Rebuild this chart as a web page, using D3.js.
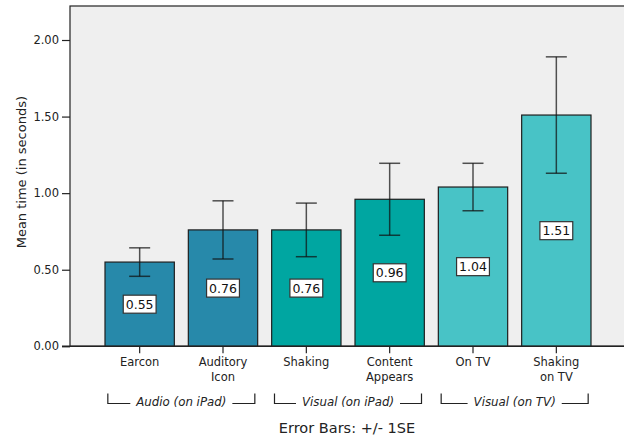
<!DOCTYPE html>
<html>
<head>
<meta charset="utf-8">
<script src="https://cdn.jsdelivr.net/npm/d3@7"></script>
<style>
  html, body { margin: 0; padding: 0; background: #fff; }
  svg { display: block; font-family: "DejaVu Sans", Verdana, sans-serif; }
</style>
</head>
<body>
<svg id="chart" width="624" height="438"></svg>
<script>
// Mean response time per notification condition, with ±1 standard error
const categories = ["Earcon", "Auditory\nIcon", "Shaking", "Content\nAppears", "On TV", "Shaking\non TV"];
const means = [0.55, 0.76, 0.76, 0.96, 1.04, 1.51];
const stdErrors = [0.093, 0.19, 0.175, 0.235, 0.155, 0.38];
const groupOf = [0, 0, 1, 1, 2, 2];
const groupLabels = ["Audio (on iPad)", "Visual (on iPad)", "Visual (on TV)"];
const groupColors = ["#2789aa", "#00a6a1", "#48c3c6"];
const yTicks = [0, 0.5, 1.0, 1.5, 2.0];

const svg = d3.select("#chart");
const plot = { left: 70, top: 6, right: 630, bottom: 346.3 };

const x = d3.scaleBand()
  .domain(categories)
  .range([98, 598])
  .paddingInner(0.168)
  .paddingOuter(0.084);

const y = d3.scaleLinear()
  .domain([0, 2.222])
  .range([plot.bottom, plot.top]);

// Plot background and frame
svg.append("rect")
  .attr("x", plot.left).attr("y", plot.top)
  .attr("width", plot.right - plot.left).attr("height", plot.bottom - plot.top)
  .attr("fill", "#efefef")
  .attr("stroke", "#222").attr("stroke-width", 1.2);

// Bars
const bars = svg.append("g");
bars.selectAll("rect")
  .data(means)
  .join("rect")
  .attr("x", (d, i) => x(categories[i]))
  .attr("y", d => y(d))
  .attr("width", x.bandwidth())
  .attr("height", d => y(0) - y(d))
  .attr("fill", (d, i) => groupColors[groupOf[i]])
  .attr("stroke", "#1e1e1e")
  .attr("stroke-width", 1.2);

// Error bars (±1 SE)
const err = svg.append("g")
  .attr("stroke", "#111")
  .attr("stroke-opacity", 0.72)
  .attr("stroke-width", 1.5);
means.forEach((m, i) => {
  const cx = x(categories[i]) + x.bandwidth() / 2;
  const lo = y(m - stdErrors[i]);
  const hi = y(m + stdErrors[i]);
  const cap = 10.5;
  err.append("line").attr("x1", cx).attr("x2", cx).attr("y1", lo).attr("y2", hi);
  err.append("line").attr("x1", cx - cap).attr("x2", cx + cap).attr("y1", hi).attr("y2", hi);
  err.append("line").attr("x1", cx - cap).attr("x2", cx + cap).attr("y1", lo).attr("y2", lo);
});

// Value labels in white boxes at mid-bar
const labels = svg.append("g");
means.forEach((m, i) => {
  const cx = x(categories[i]) + x.bandwidth() / 2;
  const cy = y(m / 2);
  const g = labels.append("g").attr("transform", `translate(${cx},${cy})`);
  const box = g.append("rect").attr("fill", "#fff").attr("stroke", "#333").attr("stroke-width", 1.2);
  const t = g.append("text")
    .attr("text-anchor", "middle")
    .attr("dy", "0.36em")
    .attr("font-size", 12.5)
    .attr("fill", "#111")
    .text(d3.format(".2f")(m));
  const w = t.node().getComputedTextLength() + 5;
  box.attr("x", -w / 2).attr("y", -9).attr("width", w).attr("height", 18);
});

// Y axis
const yAxis = svg.append("g")
  .attr("transform", `translate(${plot.left},0)`)
  .call(d3.axisLeft(y).tickValues(yTicks).tickFormat(d3.format(".2f")).tickSize(8).tickPadding(3));
yAxis.select(".domain").remove();
yAxis.selectAll(".tick line").attr("stroke", "#222").attr("stroke-width", 1.2);
yAxis.selectAll(".tick text").attr("font-size", 11.5).attr("fill", "#222")
  .attr("font-family", "DejaVu Sans, Verdana, sans-serif");

// X axis baseline and ticks
const xAxis = svg.append("g")
  .attr("transform", `translate(0,${plot.bottom})`)
  .call(d3.axisBottom(x).tickSize(7).tickFormat(""));
xAxis.select(".domain").remove();
xAxis.selectAll(".tick line").attr("stroke", "#222").attr("stroke-width", 1.2);
svg.append("line")
  .attr("x1", 62).attr("x2", 624)
  .attr("y1", plot.bottom).attr("y2", plot.bottom)
  .attr("stroke", "#222").attr("stroke-width", 1.4);

// Category labels (possibly two lines)
categories.forEach(c => {
  const cx = x(c) + x.bandwidth() / 2;
  const t = svg.append("text")
    .attr("x", cx).attr("y", 366)
    .attr("text-anchor", "middle")
    .attr("font-size", 11.5)
    .attr("fill", "#222");
  c.split("\n").forEach((line, k) => {
    t.append("tspan").attr("x", cx).attr("dy", k === 0 ? 0 : 14.5).text(line);
  });
});

// Group brackets with italic labels
groupLabels.forEach((label, gi) => {
  const members = categories.filter((c, i) => groupOf[i] === gi);
  const x0 = x(members[0]);
  const x1 = x(members[members.length - 1]) + x.bandwidth();
  const mid = (x0 + x1) / 2;
  const left = mid - 73.5, right = mid + 73.5;
  const yb = 403.5, ytop = 393.5;
  const t = svg.append("text")
    .attr("x", mid).attr("y", yb + 2.5)
    .attr("text-anchor", "middle")
    .attr("font-size", 11.8)
    .attr("font-style", "italic")
    .attr("fill", "#222")
    .text(label);
  const tw = t.node().getComputedTextLength();
  const gap = 6;
  const path = d3.path();
  path.moveTo(left, ytop); path.lineTo(left, yb); path.lineTo(mid - tw / 2 - gap, yb);
  path.moveTo(mid + tw / 2 + gap, yb); path.lineTo(right, yb); path.lineTo(right, ytop);
  svg.append("path").attr("d", path.toString())
    .attr("fill", "none").attr("stroke", "#222").attr("stroke-width", 1.2);
});

// Axis titles and footnote
svg.append("text")
  .attr("transform", `translate(26,${(plot.top + plot.bottom) / 2 - 4}) rotate(-90)`)
  .attr("text-anchor", "middle")
  .attr("font-size", 13)
  .attr("fill", "#222")
  .text("Mean time (in seconds)");

svg.append("text")
  .attr("x", 347).attr("y", 433)
  .attr("text-anchor", "middle")
  .attr("font-size", 14.5)
  .attr("fill", "#222")
  .text("Error Bars: +/- 1SE");
</script>
</body>
</html>
